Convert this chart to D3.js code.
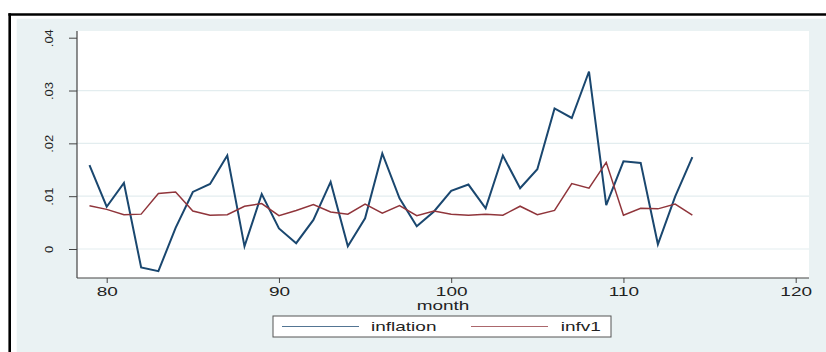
<!DOCTYPE html>
<html>
<head>
<meta charset="utf-8">
<script src="https://cdn.jsdelivr.net/npm/d3@7/dist/d3.min.js"></script>
<style>
  html, body { margin: 0; padding: 0; background: #ffffff; }
  svg { display: block; }
  text { font-family: "Liberation Sans", Arial, Helvetica, sans-serif; }
</style>
</head>
<body>
<svg id="chart" width="826" height="352"></svg>
<script>
// ---- data ----
const months = [79,80,81,82,83,84,85,86,87,88,89,90,91,92,93,94,95,96,97,98,99,100,101,102,103,104,105,106,107,108,109,110,111,112,113,114];
const inflation = [0.0159,0.0080,0.0125,-0.0035,-0.0042,0.0040,0.0108,0.0123,0.0177,0.0005,0.0104,0.0039,0.0011,0.0055,0.0127,0.0005,0.0058,0.0181,0.0096,0.0043,0.0071,0.0110,0.0122,0.0077,0.0177,0.0115,0.0151,0.0266,0.0248,0.0336,0.0083,0.0166,0.0163,0.0009,0.0099,0.0174];
const infv1 = [0.0082,0.0075,0.0065,0.0066,0.0105,0.0108,0.0072,0.0064,0.0065,0.0081,0.0086,0.0063,0.0073,0.0084,0.0070,0.0066,0.0085,0.0068,0.0082,0.0063,0.0072,0.0066,0.0064,0.0066,0.0064,0.0081,0.0065,0.0073,0.0124,0.0115,0.0164,0.0064,0.0077,0.0076,0.0085,0.0064];
const xTicks = [80, 90, 100, 110, 120];
const yTicks = [0, 0.01, 0.02, 0.03, 0.04];
const yTickLabels = ["0", ".01", ".02", ".03", ".04"];
const gridValues = [0, 0.01, 0.02, 0.03];
const seriesNames = ["inflation", "infv1"];
const seriesColors = ["#1a476f", "#90353b"];
const xTitle = "month";

// ---- layout ----
const svg = d3.select("#chart");
const plot = { left: 77, right: 809, top: 31, bottom: 278 };
const x = d3.scaleLinear().domain([80, 120]).range([106.7, 795.7]);
const y = d3.scaleLinear().domain([0, 0.04]).range([249, 37.7]);
const sx = 1.52; // horizontal stretch of the original rendering

// outer frame
svg.append("rect").attr("x", 16.7).attr("y", 18.7).attr("width", 826 - 16.7).attr("height", 352 - 18.7)
  .attr("fill", "#eaf2f3");
svg.append("line").attr("x1", 8.4).attr("x2", 826).attr("y1", 14.5).attr("y2", 14.5)
  .attr("stroke", "#000").attr("stroke-width", 2.5);
svg.append("line").attr("x1", 9.7).attr("x2", 9.7).attr("y1", 13.3).attr("y2", 352)
  .attr("stroke", "#000").attr("stroke-width", 2.6);

// plot region
svg.append("rect").attr("x", plot.left).attr("y", plot.top)
  .attr("width", plot.right - plot.left).attr("height", plot.bottom - plot.top)
  .attr("fill", "#ffffff");

// gridlines
svg.append("g").selectAll("line").data(gridValues).join("line")
  .attr("x1", plot.left).attr("x2", plot.right)
  .attr("y1", d => y(d)).attr("y2", d => y(d))
  .attr("stroke", "#e3edef").attr("stroke-width", 1.2);

// y axis
const yAxis = d3.axisLeft(y).tickValues(yTicks).tickSize(8).tickFormat((d, i) => yTickLabels[i]);
const gy = svg.append("g").attr("transform", `translate(${plot.left},0)`).call(yAxis);
gy.select(".domain").remove();
gy.selectAll(".tick line").attr("stroke", "#444").attr("stroke-width", 1);
gy.selectAll(".tick text").each(function(d) {
  d3.select(this)
    .attr("x", null).attr("dy", null)
    .attr("text-anchor", "middle")
    .attr("font-size", 13)
    .attr("fill", "#222")
    .attr("transform", `translate(${53 - plot.left},0) rotate(-90) scale(1,0.8)`);
});
svg.append("line").attr("x1", plot.left).attr("x2", plot.left).attr("y1", plot.top).attr("y2", plot.bottom)
  .attr("stroke", "#444").attr("stroke-width", 1.2);

// x axis
const xAxis = d3.axisBottom(x).tickValues(xTicks).tickSize(5).tickFormat(d3.format("d"));
const gx = svg.append("g").attr("transform", `translate(0,${plot.bottom})`).call(xAxis);
gx.select(".domain").remove();
gx.selectAll(".tick line").attr("stroke", "#444").attr("stroke-width", 1);
gx.selectAll(".tick text")
  .attr("y", null).attr("dy", null)
  .attr("text-anchor", "middle")
  .attr("font-size", 12.5)
  .attr("fill", "#222")
  .attr("transform", `translate(0,17.8) scale(${sx},1)`);
svg.append("line").attr("x1", plot.left).attr("x2", plot.right).attr("y1", plot.bottom).attr("y2", plot.bottom)
  .attr("stroke", "#444").attr("stroke-width", 1.2);

// x title
svg.append("text").text(xTitle)
  .attr("text-anchor", "middle").attr("font-size", 12).attr("fill", "#222")
  .attr("transform", `translate(${(plot.left + plot.right) / 2},309.5) scale(${sx * 1.04},1)`);

// lines
const line = d3.line().x(d => x(d[0])).y(d => y(d[1]));
const seriesData = [inflation, infv1];
const widths = [2, 1.5];
seriesData.forEach((vals, i) => {
  svg.append("path")
    .datum(months.map((m, j) => [m, vals[j]]))
    .attr("fill", "none")
    .attr("stroke", seriesColors[i])
    .attr("stroke-width", widths[i])
    .attr("stroke-linejoin", "miter")
    .attr("d", line);
});

// legend
const lg = svg.append("g");
lg.append("rect").attr("x", 273).attr("y", 316).attr("width", 611 - 273).attr("height", 21)
  .attr("fill", "#ffffff").attr("stroke", "#555").attr("stroke-width", 1);
const keyX = [[282, 359, 371], [471, 548, 560.7]];
seriesNames.forEach((name, i) => {
  lg.append("line").attr("x1", keyX[i][0]).attr("x2", keyX[i][1]).attr("y1", 326.5).attr("y2", 326.5)
    .attr("stroke", seriesColors[i]).attr("stroke-width", 1.2).attr("opacity", 0.75);
  lg.append("text").text(name)
    .attr("font-size", 12.5).attr("fill", "#222")
    .attr("transform", `translate(${keyX[i][2]},331) scale(${sx},1)`);
});
</script>
</body>
</html>
